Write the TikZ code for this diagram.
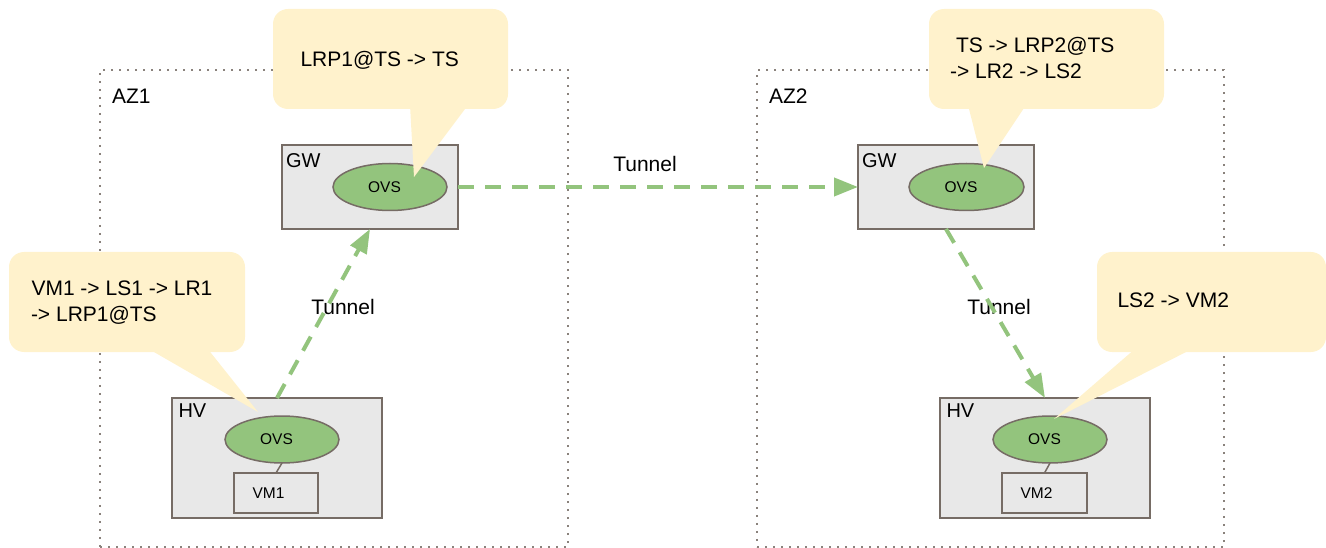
\documentclass[tikz,border=0pt]{standalone}
\usepackage{fontspec}
\setmainfont{Liberation Sans}
\usetikzlibrary{arrows.meta,shapes.geometric}
\definecolor{edgegray}{HTML}{766C65}
\definecolor{boxgray}{HTML}{E8E8E8}
\definecolor{ovsgreen}{HTML}{93C47D}
\definecolor{noteyellow}{HTML}{FFF2CC}
\definecolor{dotgray}{HTML}{8A827C}
\newcommand\cofont{\fontsize{21}{25}\selectfont}
\newcommand\hostfont{\fontsize{20}{24}\selectfont}
\newcommand\ovsfont{\fontsize{15.5}{18}\selectfont}
\begin{document}
\begin{tikzpicture}[x=1pt,y=-1pt,
  zone/.style={draw=dotgray, line width=1.8pt, dash pattern=on 1.8pt off 6.2pt, rectangle, inner sep=0pt, outer sep=0pt},
  host/.style={draw=edgegray, fill=boxgray, line width=1.5pt, rectangle, inner sep=0pt, outer sep=0pt},
  ovs/.style={ellipse, draw=edgegray, fill=ovsgreen, line width=1.5pt, inner sep=0pt, outer sep=0pt, minimum height=47pt, label={[font=\ovsfont, inner sep=0pt, xshift=-5.5pt]center:OVS}},
  vmbox/.style={draw=edgegray, fill=boxgray, line width=1.5pt, rectangle, inner sep=0pt, outer sep=0pt, minimum height=40pt},
  note/.style={fill=noteyellow, rounded corners=15pt, rectangle, inner sep=0pt, outer sep=0pt, minimum height=100pt},
  lbl/.style={inner sep=0pt, outer sep=0pt},
  link/.style={draw=edgegray, line width=1.5pt},
  tunnel/.style={draw=ovsgreen, line width=4pt, dash pattern=on 16pt off 11pt, -{Triangle[length=24pt,width=18pt]}}
]
\useasboundingbox (0,0) rectangle (1326,548);

% availability zones
\node[zone, minimum width=468pt, minimum height=477pt] (az1) at (334,308.5) {};
\node[zone, minimum width=467pt, minimum height=477pt] (az2) at (990.5,308.5) {};
\node[lbl, font=\cofont, anchor=base west] (az1l) at (112,104) {AZ1};
\node[lbl, font=\cofont, anchor=base west] (az2l) at (769,104) {AZ2};

% gateways
\node[host, minimum width=176pt, minimum height=84pt] (gw1) at (370,187) {};
\node[lbl, font=\hostfont, anchor=base west] (gw1l) at (286,168) {GW};
\node[ovs, minimum width=114pt] (gw1ovs) at (390,187) {};

\node[host, minimum width=176pt, minimum height=84pt] (gw2) at (946,187) {};
\node[lbl, font=\hostfont, anchor=base west] (gw2l) at (862,168) {GW};
\node[ovs, minimum width=115pt] (gw2ovs) at (966.5,187) {};

% hypervisors
\node[host, minimum width=210pt, minimum height=120pt] (hv1) at (277,458) {};
\node[lbl, font=\hostfont, anchor=base west] (hv1l) at (178.5,417) {HV};
\node[ovs, minimum width=114pt] (hv1ovs) at (282,439.5) {};
\node[vmbox, minimum width=84pt, label={[font=\ovsfont, inner sep=0pt, xshift=-7.5pt]center:VM1}] (vm1) at (276,493) {};
\draw[link] (hv1ovs.south) -- (vm1.north);

\node[host, minimum width=210pt, minimum height=120pt] (hv2) at (1045,458) {};
\node[lbl, font=\hostfont, anchor=base west] (hv2l) at (946.5,417) {HV};
\node[ovs, minimum width=114pt] (hv2ovs) at (1050,439.5) {};
\node[vmbox, minimum width=85pt, label={[font=\ovsfont, inner sep=0pt, xshift=-8pt]center:VM2}] (vm2) at (1044.5,493) {};
\draw[link] (hv2ovs.south) -- (vm2.north);

% tunnels
\node[lbl, font=\cofont, anchor=base] (t1l) at (343,315) {Tunnel};
\node[lbl, font=\cofont, anchor=base] (t2l) at (645,172) {Tunnel};
\node[lbl, font=\cofont, anchor=base] (t3l) at (999,315) {Tunnel};
\draw[tunnel] (hv1.north) -- (gw1.south);
\draw[tunnel] (gw1.east) -- (gw2.west);
\draw[tunnel] (gw2.south) -- (hv2.north);

% callouts
\node[note, minimum width=235pt] (c1) at (390.5,59) {};
\fill[noteyellow] (410,105) -- (468,105) -- (414,177) -- cycle;
\node[lbl, font=\cofont, anchor=base west] (c1t) at (300.5,67) {LRP1@TS -> TS};

\node[note, minimum width=235pt] (c2) at (1046.5,59) {};
\fill[noteyellow] (968,105) -- (1026,105) -- (984,168) -- cycle;
\node[lbl, font=\cofont, anchor=base west] (c2a) at (956,53) {TS -> LRP2@TS};
\node[lbl, font=\cofont, anchor=base west] (c2b) at (950,79) {-> LR2 -> LS2};

\node[note, minimum width=236pt] (c3) at (127,302) {};
\fill[noteyellow] (147,348) -- (207,348) -- (258,412) -- cycle;
\node[lbl, font=\cofont, anchor=base west] (c3a) at (31.5,295) {VM1 -> LS1 -> LR1};
\node[lbl, font=\cofont, anchor=base west] (c3b) at (31,321.5) {-> LRP1@TS};

\node[note, minimum width=229pt] (c4) at (1211.5,302) {};
\fill[noteyellow] (1136,348) -- (1194,348) -- (1054,419) -- cycle;
\node[lbl, font=\cofont, anchor=base west] (c4t) at (1117.5,308) {LS2 -> VM2};
\end{tikzpicture}
\end{document}
